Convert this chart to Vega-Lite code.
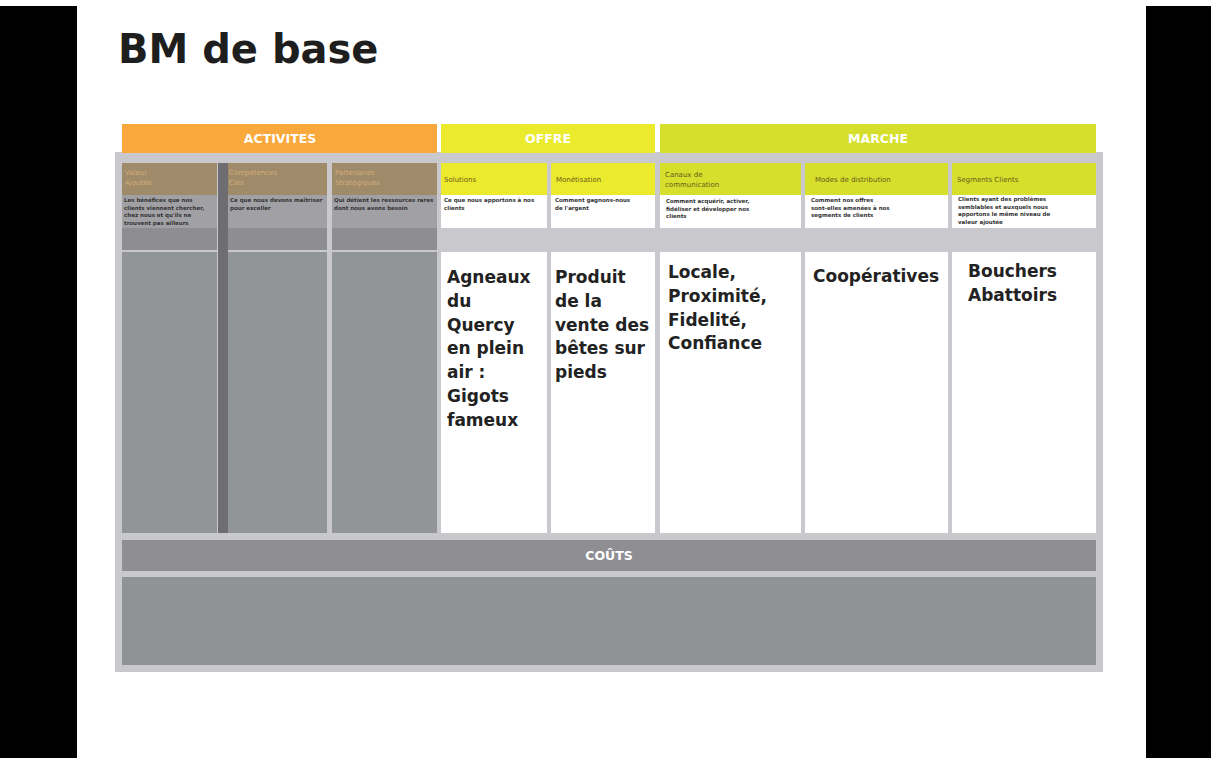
{
  "$schema": "https://vega.github.io/schema/vega-lite/v6.json",
  "autosize": {"type": "fit", "contains": "padding"},
  "width": 1211,
  "height": 758,
  "padding": 0,
  "background": "#ffffff",
  "config": {"view": {"stroke": null}},
  "datasets": {
    "boxes": [
      {"x": 0, "x2": 77, "y": 6, "y2": 758, "kind": "black"},
      {"x": 1146, "x2": 1211, "y": 6, "y2": 758, "kind": "black"},
      {"x": 115, "x2": 1103, "y": 152, "y2": 672, "kind": "frame"},
      {"x": 122, "x2": 437, "y": 124, "y2": 153, "kind": "orange"},
      {"x": 441, "x2": 655, "y": 124, "y2": 153, "kind": "yellow"},
      {"x": 660, "x2": 1096, "y": 124, "y2": 153, "kind": "lime"},
      {"x": 122, "x2": 217, "y": 163, "y2": 195, "kind": "brown"},
      {"x": 228, "x2": 327, "y": 163, "y2": 195, "kind": "brown"},
      {"x": 332, "x2": 437, "y": 163, "y2": 195, "kind": "brown"},
      {"x": 122, "x2": 217, "y": 195, "y2": 228, "kind": "actDesc"},
      {"x": 228, "x2": 327, "y": 195, "y2": 228, "kind": "actDesc"},
      {"x": 332, "x2": 437, "y": 195, "y2": 228, "kind": "actDesc"},
      {"x": 122, "x2": 217, "y": 228, "y2": 250, "kind": "actBand"},
      {"x": 228, "x2": 327, "y": 228, "y2": 250, "kind": "actBand"},
      {"x": 332, "x2": 437, "y": 228, "y2": 250, "kind": "actBand"},
      {"x": 122, "x2": 217, "y": 252, "y2": 533, "kind": "actMain"},
      {"x": 228, "x2": 327, "y": 252, "y2": 533, "kind": "actMain"},
      {"x": 332, "x2": 437, "y": 252, "y2": 533, "kind": "actMain"},
      {"x": 218, "x2": 228, "y": 163, "y2": 533, "kind": "strip"},
      {"x": 441, "x2": 547, "y": 163, "y2": 195, "kind": "yellow"},
      {"x": 551, "x2": 655, "y": 163, "y2": 195, "kind": "yellow"},
      {"x": 660, "x2": 801, "y": 163, "y2": 195, "kind": "lime"},
      {"x": 805, "x2": 948, "y": 163, "y2": 195, "kind": "lime"},
      {"x": 952, "x2": 1096, "y": 163, "y2": 195, "kind": "lime"},
      {"x": 441, "x2": 547, "y": 195, "y2": 228, "kind": "white"},
      {"x": 551, "x2": 655, "y": 195, "y2": 228, "kind": "white"},
      {"x": 660, "x2": 801, "y": 195, "y2": 228, "kind": "white"},
      {"x": 805, "x2": 948, "y": 195, "y2": 228, "kind": "white"},
      {"x": 952, "x2": 1096, "y": 195, "y2": 228, "kind": "white"},
      {"x": 441, "x2": 547, "y": 252, "y2": 533, "kind": "white"},
      {"x": 551, "x2": 655, "y": 252, "y2": 533, "kind": "white"},
      {"x": 660, "x2": 801, "y": 252, "y2": 533, "kind": "white"},
      {"x": 805, "x2": 948, "y": 252, "y2": 533, "kind": "white"},
      {"x": 952, "x2": 1096, "y": 252, "y2": 533, "kind": "white"},
      {"x": 122, "x2": 1096, "y": 540, "y2": 571, "kind": "costHead"},
      {"x": 122, "x2": 1096, "y": 577, "y2": 665, "kind": "costBody"}
    ],
    "labels": [
      {"x": 118, "y": 63, "role": "title", "text": "BM de base"},
      {"x": 280, "y": 139, "role": "header", "text": "ACTIVITES"},
      {"x": 548, "y": 139, "role": "header", "text": "OFFRE"},
      {"x": 878, "y": 139, "role": "header", "text": "MARCHE"},
      {"x": 609, "y": 556, "role": "header", "text": "COÛTS"},
      {"x": 125, "y": 175, "role": "subA", "text": "Valeur\nAjoutée"},
      {"x": 229, "y": 175, "role": "subA", "text": "Compétences\nClés"},
      {"x": 335, "y": 175, "role": "subA", "text": "Partenaires\nStratégiques"},
      {"x": 444, "y": 182, "role": "subY", "text": "Solutions"},
      {"x": 556, "y": 182, "role": "subY", "text": "Monétisation"},
      {"x": 665, "y": 177, "role": "subY", "text": "Canaux de\ncommunication"},
      {"x": 815, "y": 182, "role": "subY", "text": "Modes de distribution"},
      {"x": 957, "y": 182, "role": "subY", "text": "Segments Clients"},
      {"x": 124, "y": 202, "role": "desc", "text": "Les bénéfices que nos\nclients viennent chercher,\nchez nous et qu'ils ne\ntrouvent pas ailleurs"},
      {"x": 230, "y": 202, "role": "desc", "text": "Ce que nous devons maîtriser\npour exceller"},
      {"x": 334, "y": 202, "role": "desc", "text": "Qui détient les ressources rares\ndont nous avons besoin"},
      {"x": 444, "y": 202, "role": "desc", "text": "Ce que nous apportons à nos\nclients"},
      {"x": 555, "y": 202, "role": "desc", "text": "Comment  gagnons-nous\nde l'argent"},
      {"x": 666, "y": 203, "role": "desc", "text": "Comment acquérir, activer,\nfidéliser et développer nos\nclients"},
      {"x": 811, "y": 202, "role": "desc", "text": "Comment   nos offres\nsont-elles amenées à nos\nsegments de clients"},
      {"x": 958, "y": 201, "role": "desc", "text": "Clients ayant des problèmes\nsemblables et auxquels nous\napportons le même niveau de\nvaleur ajoutée"},
      {"x": 447, "y": 283, "role": "main", "text": "Agneaux\ndu\nQuercy\nen plein\nair :\nGigots\nfameux"},
      {"x": 555, "y": 283, "role": "main", "text": "Produit\nde la\nvente des\nbêtes sur\npieds"},
      {"x": 668, "y": 278, "role": "main", "text": "Locale,\nProximité,\nFidelité,\nConfiance"},
      {"x": 813, "y": 282, "role": "main", "text": "Coopératives"},
      {"x": 968, "y": 277, "role": "main", "text": "Bouchers\nAbattoirs"}
    ]
  },
  "encoding": {
    "x": {"field": "x", "type": "quantitative", "axis": null, "scale": {"domain": [0, 1211], "nice": false, "zero": false}},
    "y": {"field": "y", "type": "quantitative", "axis": null, "scale": {"domain": [0, 758], "nice": false, "zero": false, "reverse": true}}
  },
  "layer": [
    {
      "data": {"name": "boxes"},
      "mark": {"type": "rect"},
      "encoding": {
        "x2": {"field": "x2"},
        "y2": {"field": "y2"},
        "color": {
          "field": "kind", "type": "nominal", "legend": null,
          "scale": {
            "domain": ["black", "frame", "orange", "yellow", "lime", "brown", "actDesc", "actBand", "actMain", "strip", "white", "costHead", "costBody"],
            "range": ["#000000", "#c9c9cd", "#f9a93c", "#ecea2d", "#d5df2c", "#9f8a6a", "#a1a1a5", "#8e8e92", "#929595", "#6e6e72", "#ffffff", "#8f8e93", "#8f9393"]
          }
        }
      }
    },
    {
      "data": {"name": "labels"},
      "transform": [{"filter": "datum.role === 'title'"}],
      "mark": {"type": "text", "align": "left", "baseline": "alphabetic", "font": "DejaVu Sans", "fontWeight": "bold", "fontSize": 40, "color": "#1e1e1e"},
      "encoding": {"text": {"field": "text"}}
    },
    {
      "data": {"name": "labels"},
      "transform": [{"filter": "datum.role === 'header'"}],
      "mark": {"type": "text", "align": "center", "baseline": "middle", "font": "DejaVu Sans", "fontWeight": "bold", "fontSize": 12.5, "color": "#ffffff"},
      "encoding": {"text": {"field": "text"}}
    },
    {
      "data": {"name": "labels"},
      "transform": [{"filter": "datum.role === 'subA'"}],
      "mark": {"type": "text", "align": "left", "baseline": "alphabetic", "font": "DejaVu Sans", "fontSize": 7, "lineHeight": 9.5, "lineBreak": "\n", "color": "#d4ac78"},
      "encoding": {"text": {"field": "text"}}
    },
    {
      "data": {"name": "labels"},
      "transform": [{"filter": "datum.role === 'subY'"}],
      "mark": {"type": "text", "align": "left", "baseline": "alphabetic", "font": "DejaVu Sans", "fontSize": 7, "lineHeight": 9.5, "lineBreak": "\n", "color": "#6a5a1c"},
      "encoding": {"text": {"field": "text"}}
    },
    {
      "data": {"name": "labels"},
      "transform": [{"filter": "datum.role === 'desc'"}],
      "mark": {"type": "text", "align": "left", "baseline": "alphabetic", "font": "DejaVu Sans", "fontWeight": "bold", "fontSize": 5.5, "lineHeight": 7.6, "lineBreak": "\n", "color": "#333333"},
      "encoding": {"text": {"field": "text"}}
    },
    {
      "data": {"name": "labels"},
      "transform": [{"filter": "datum.role === 'main'"}],
      "mark": {"type": "text", "align": "left", "baseline": "alphabetic", "font": "DejaVu Sans", "fontWeight": "bold", "fontSize": 17, "lineHeight": 23.8, "lineBreak": "\n", "color": "#222222"},
      "encoding": {"text": {"field": "text"}}
    }
  ]
}
